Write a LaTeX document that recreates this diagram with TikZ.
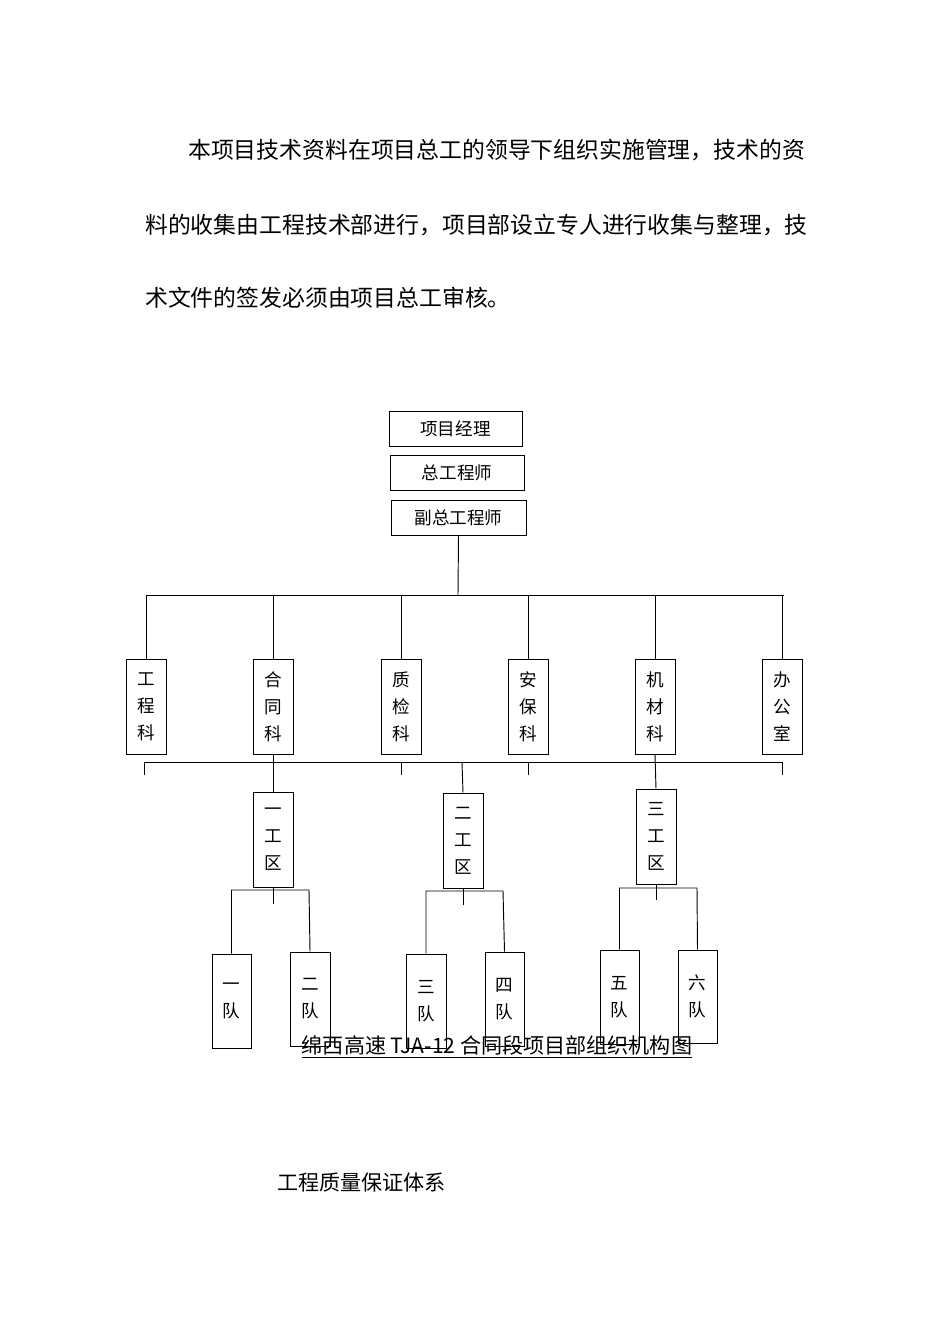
\documentclass[tikz,border=0pt]{standalone}
\usepackage{fontspec}
\setmainfont{Noto Sans CJK SC}
\begin{document}
\begin{tikzpicture}[x=0.03cm,y=-0.03cm,
  bx/.style={draw,line width=0.8pt,minimum width=1.2cm,inner sep=0pt,font=\fontsize{15}{16}\selectfont},
  vb/.style={draw,line width=0.8pt,minimum width=1.2cm,inner sep=0pt,font=\fontsize{15}{23}\selectfont,align=center},
  ln/.style={line width=0.8pt},
  para/.style={anchor=west,inner sep=0pt,font=\fontsize{19.5}{20}\selectfont}]
\useasboundingbox (0,0) rectangle (950,1344);
\node[para] (p1) at (188,150) {本项目技术资料在项目总工的领导下组织实施管理，技术的资};
\node[para] (p2) at (145,225) {料的收集由工程技术部进行，项目部设立专人进行收集与整理，技};
\node[para] (p3) at (145,298) {术文件的签发必须由项目总工审核。};
% caption (behind boxes)
\node[inner sep=0pt,font=\fontsize{18}{20}\selectfont] (cap) at (497,1047) {\underline{绵西高速 TJA-12 合同段项目部组织机构图}};
\node[para,font=\fontsize{18}{20}\selectfont] (q) at (277,1183) {工程质量保证体系};
% top
\node[bx,minimum width=133*0.03cm,minimum height=35*0.03cm] (pm) at (455.5,428.5) {项目经理};
\node[bx,minimum width=134*0.03cm,minimum height=35*0.03cm] (ce) at (457,472.5) {总工程师};
\node[bx,minimum width=135*0.03cm,minimum height=35*0.03cm] (dce) at (458.5,517.5) {副总工程师};
\coordinate (b0) at (458,595);
\draw[ln] (dce.south) -- (b0);
\draw[ln] (146,595) -- (784,595);
% departments
\foreach \n/\x/\t in {d1/146/工\\程\\科,d2/273/合\\同\\科,d3/401/质\\检\\科,d4/528/安\\保\\科,d5/655/机\\材\\科,d6/782/办\\公\\室}{
  \node[vb,minimum width=40*0.03cm,minimum height=95*0.03cm] (\n) at (\x,706.5) {\t};
  \draw[ln] (\x,595) -- (\n.north);
}
\draw[ln] (144,762) -- (782,762);
\foreach \x in {144,401,528,782}{\draw[ln] (\x,762) -- (\x,775);}
\foreach \n in {d1,d3,d4,d6}{\draw[ln] (\n.south) -- ++(0,-8*0.03);}
% work areas
\node[vb,minimum width=40*0.03cm,minimum height=95*0.03cm] (w1) at (273,839.5) {一\\工\\区};
\node[vb,minimum width=40*0.03cm,minimum height=95*0.03cm] (w2) at (463,840.5) {二\\工\\区};
\node[vb,minimum width=40*0.03cm,minimum height=95*0.03cm] (w3) at (656,836.5) {三\\工\\区};
\draw[ln] (d2.south) -- (w1.north);
\draw[ln] (462,762) -- (w2.north);
\draw[ln] (d5.south) -- (w3.north);
% teams
\node[vb,minimum width=39*0.03cm,minimum height=94*0.03cm] (t1) at (231.5,1001) {一\\队};
\node[vb,minimum width=40*0.03cm,minimum height=94*0.03cm] (t2) at (310,999) {二\\队};
\node[vb,minimum width=40*0.03cm,minimum height=94*0.03cm] (t3) at (426,1001) {三\\队};
\node[vb,minimum width=39*0.03cm,minimum height=94*0.03cm] (t4) at (504.5,999) {四\\队};
\node[vb,minimum width=39*0.03cm,minimum height=94*0.03cm] (t5) at (619.5,997) {五\\队};
\node[vb,minimum width=39*0.03cm,minimum height=93*0.03cm] (t6) at (697.5,996.5) {六\\队};
\draw[ln] (w1.south) -- (273,904);
\draw[ln] (t1.north) |- (309,890) -- (t2.north);
\draw[ln] (w2.south) -- (463,905);
\draw[ln] (t3.north) |- (503,891) -- (t4.north);
\draw[ln] (w3.south) -- (656,900);
\draw[ln] (t5.north) |- (697,888) -- (t6.north);
\end{tikzpicture}
\end{document}
